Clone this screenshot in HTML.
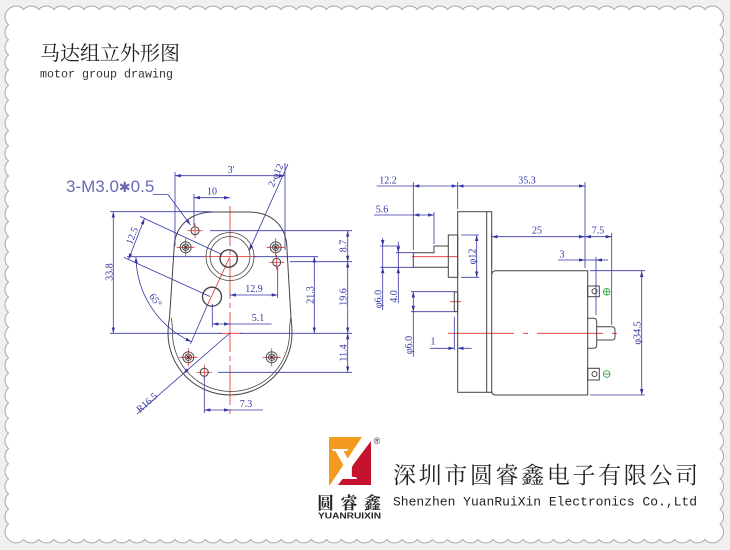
<!DOCTYPE html>
<html><head><meta charset="utf-8">
<style>
html,body{margin:0;padding:0;background:#f0f0f0;width:730px;height:550px;overflow:hidden;}
svg{display:block;}
.d{font-family:"Liberation Serif",serif;font-size:10px;fill:#3535a5;}
</style></head><body>
<svg width="730" height="550" viewBox="0 0 730 550" xmlns="http://www.w3.org/2000/svg" xmlns:xlink="http://www.w3.org/1999/xlink">
<defs>
<marker id="a" viewBox="0 0 10 10" refX="10" refY="5" markerWidth="6" markerHeight="3.4" markerUnits="userSpaceOnUse" preserveAspectRatio="none" orient="auto-start-reverse"><path d="M0,0 L10,5 L0,10 z" fill="#3535a5"/></marker>
<g id="scr">
<line x1="-9" y1="0" x2="9" y2="0" stroke="#e02a2a" stroke-width="0.8"/>
<line x1="0" y1="-9" x2="0" y2="9" stroke="#e02a2a" stroke-width="0.8"/>
<circle r="5.5" fill="none" stroke="#444" stroke-width="0.9"/>
<circle r="3.3" fill="none" stroke="#444" stroke-width="0.8"/>
<path d="M-2,-2 L2,2 M-2,2 L2,-2" stroke="#333" stroke-width="0.9"/>
</g>
<g id="hole">
<line x1="-7.5" y1="0" x2="7.5" y2="0" stroke="#e02a2a" stroke-width="0.8"/>
<line x1="0" y1="-7.5" x2="0" y2="7.5" stroke="#e02a2a" stroke-width="0.8"/>
<circle r="4" fill="none" stroke="#444" stroke-width="1"/>
</g>
</defs>
<rect width="730" height="550" fill="#f0f0f0"/>
<path fill="#fff" stroke="#a8a8a8" stroke-width="1" d="M8.5,9.5
a10 10 0 0 1 15.14 0 a10 10 0 0 1 15.14 0 a10 10 0 0 1 15.14 0 a10 10 0 0 1 15.14 0 a10 10 0 0 1 15.14 0
a10 10 0 0 1 15.14 0 a10 10 0 0 1 15.14 0 a10 10 0 0 1 15.14 0 a10 10 0 0 1 15.14 0 a10 10 0 0 1 15.14 0
a10 10 0 0 1 15.14 0 a10 10 0 0 1 15.14 0 a10 10 0 0 1 15.14 0 a10 10 0 0 1 15.14 0 a10 10 0 0 1 15.14 0
a10 10 0 0 1 15.14 0 a10 10 0 0 1 15.14 0 a10 10 0 0 1 15.14 0 a10 10 0 0 1 15.14 0 a10 10 0 0 1 15.14 0
a10 10 0 0 1 15.14 0 a10 10 0 0 1 15.14 0 a10 10 0 0 1 15.14 0 a10 10 0 0 1 15.14 0 a10 10 0 0 1 15.14 0
a10 10 0 0 1 15.14 0 a10 10 0 0 1 15.14 0 a10 10 0 0 1 15.14 0 a10 10 0 0 1 15.14 0 a10 10 0 0 1 15.14 0
a10 10 0 0 1 15.14 0 a10 10 0 0 1 15.14 0 a10 10 0 0 1 15.14 0 a10 10 0 0 1 15.14 0 a10 10 0 0 1 15.14 0
a10 10 0 0 1 15.14 0 a10 10 0 0 1 15.14 0 a10 10 0 0 1 15.14 0 a10 10 0 0 1 15.14 0 a10 10 0 0 1 15.14 0
a10 10 0 0 1 15.14 0 a10 10 0 0 1 15.14 0 a10 10 0 0 1 15.14 0 a10 10 0 0 1 15.14 0 a10 10 0 0 1 15.14 0
a10 10 0 0 1 15.14 0 a10 10 0 0 1 15.14 0
a10 10 0 0 1 0 15.14 a10 10 0 0 1 0 15.14 a10 10 0 0 1 0 15.14 a10 10 0 0 1 0 15.14 a10 10 0 0 1 0 15.14
a10 10 0 0 1 0 15.14 a10 10 0 0 1 0 15.14 a10 10 0 0 1 0 15.14 a10 10 0 0 1 0 15.14 a10 10 0 0 1 0 15.14
a10 10 0 0 1 0 15.14 a10 10 0 0 1 0 15.14 a10 10 0 0 1 0 15.14 a10 10 0 0 1 0 15.14 a10 10 0 0 1 0 15.14
a10 10 0 0 1 0 15.14 a10 10 0 0 1 0 15.14 a10 10 0 0 1 0 15.14 a10 10 0 0 1 0 15.14 a10 10 0 0 1 0 15.14
a10 10 0 0 1 0 15.14 a10 10 0 0 1 0 15.14 a10 10 0 0 1 0 15.14 a10 10 0 0 1 0 15.14 a10 10 0 0 1 0 15.14
a10 10 0 0 1 0 15.14 a10 10 0 0 1 0 15.14 a10 10 0 0 1 0 15.14 a10 10 0 0 1 0 15.14 a10 10 0 0 1 0 15.14
a10 10 0 0 1 0 15.14 a10 10 0 0 1 0 15.14 a10 10 0 0 1 0 15.14 a10 10 0 0 1 0 15.14 a10 10 0 0 1 0 15.14
a10 10 0 0 1 -15.14 0 a10 10 0 0 1 -15.14 0 a10 10 0 0 1 -15.14 0 a10 10 0 0 1 -15.14 0 a10 10 0 0 1 -15.14 0
a10 10 0 0 1 -15.14 0 a10 10 0 0 1 -15.14 0 a10 10 0 0 1 -15.14 0 a10 10 0 0 1 -15.14 0 a10 10 0 0 1 -15.14 0
a10 10 0 0 1 -15.14 0 a10 10 0 0 1 -15.14 0 a10 10 0 0 1 -15.14 0 a10 10 0 0 1 -15.14 0 a10 10 0 0 1 -15.14 0
a10 10 0 0 1 -15.14 0 a10 10 0 0 1 -15.14 0 a10 10 0 0 1 -15.14 0 a10 10 0 0 1 -15.14 0 a10 10 0 0 1 -15.14 0
a10 10 0 0 1 -15.14 0 a10 10 0 0 1 -15.14 0 a10 10 0 0 1 -15.14 0 a10 10 0 0 1 -15.14 0 a10 10 0 0 1 -15.14 0
a10 10 0 0 1 -15.14 0 a10 10 0 0 1 -15.14 0 a10 10 0 0 1 -15.14 0 a10 10 0 0 1 -15.14 0 a10 10 0 0 1 -15.14 0
a10 10 0 0 1 -15.14 0 a10 10 0 0 1 -15.14 0 a10 10 0 0 1 -15.14 0 a10 10 0 0 1 -15.14 0 a10 10 0 0 1 -15.14 0
a10 10 0 0 1 -15.14 0 a10 10 0 0 1 -15.14 0 a10 10 0 0 1 -15.14 0 a10 10 0 0 1 -15.14 0 a10 10 0 0 1 -15.14 0
a10 10 0 0 1 -15.14 0 a10 10 0 0 1 -15.14 0 a10 10 0 0 1 -15.14 0 a10 10 0 0 1 -15.14 0 a10 10 0 0 1 -15.14 0
a10 10 0 0 1 -15.14 0 a10 10 0 0 1 -15.14 0
a10 10 0 0 1 0 -15.14 a10 10 0 0 1 0 -15.14 a10 10 0 0 1 0 -15.14 a10 10 0 0 1 0 -15.14 a10 10 0 0 1 0 -15.14
a10 10 0 0 1 0 -15.14 a10 10 0 0 1 0 -15.14 a10 10 0 0 1 0 -15.14 a10 10 0 0 1 0 -15.14 a10 10 0 0 1 0 -15.14
a10 10 0 0 1 0 -15.14 a10 10 0 0 1 0 -15.14 a10 10 0 0 1 0 -15.14 a10 10 0 0 1 0 -15.14 a10 10 0 0 1 0 -15.14
a10 10 0 0 1 0 -15.14 a10 10 0 0 1 0 -15.14 a10 10 0 0 1 0 -15.14 a10 10 0 0 1 0 -15.14 a10 10 0 0 1 0 -15.14
a10 10 0 0 1 0 -15.14 a10 10 0 0 1 0 -15.14 a10 10 0 0 1 0 -15.14 a10 10 0 0 1 0 -15.14 a10 10 0 0 1 0 -15.14
a10 10 0 0 1 0 -15.14 a10 10 0 0 1 0 -15.14 a10 10 0 0 1 0 -15.14 a10 10 0 0 1 0 -15.14 a10 10 0 0 1 0 -15.14
a10 10 0 0 1 0 -15.14 a10 10 0 0 1 0 -15.14 a10 10 0 0 1 0 -15.14 a10 10 0 0 1 0 -15.14 a10 10 0 0 1 0 -15.14
Z"/>

<!-- Title -->
<text x="40" y="60" font-family="'Liberation Serif','Noto Serif CJK SC',serif" font-size="20" fill="#222" textLength="140" lengthAdjust="spacingAndGlyphs">马达组立外形图</text>
<text x="40" y="77.5" font-family="'Liberation Mono',monospace" font-size="11.7" fill="#333" textLength="133" lengthAdjust="spacingAndGlyphs">motor group drawing</text>

<!-- ========== LEFT DRAWING ========== -->
<g stroke="#e02a2a" stroke-width="0.8" fill="none">
<line x1="230" y1="206" x2="230" y2="414" stroke-dasharray="40 4 5 4"/>
<line x1="203" y1="256.5" x2="257" y2="256.5"/>
<line x1="230" y1="256.5" x2="207" y2="306"/>
<line x1="219" y1="333.3" x2="242" y2="333.3"/>
</g>
<g stroke="#444" stroke-width="1" fill="none">
<path d="M174,250 C174,226 190,212 214,212 L248,212 C272,212 287,226 287,250 L291,318 Q292,326 292,333 A62,62 0 0 1 168,333 Q168,326 169.5,318 Z"/>
<path d="M171.5,318 Q172.5,326 172.5,333 A58.5,58.5 0 0 0 289.5,333 Q289.5,326 290.5,318" stroke-width="0.8"/>
<circle cx="230" cy="256.5" r="24" stroke-width="0.8"/>
<circle cx="230" cy="256.5" r="20" stroke-width="0.8"/>
<circle cx="228.7" cy="258.5" r="8.7" stroke-width="1.4"/>
<circle cx="212" cy="296.7" r="9.5" stroke-width="1.3"/>
</g>
<use href="#hole" xlink:href="#hole" x="195" y="230.7"/>
<use href="#hole" xlink:href="#hole" x="276.7" y="262.3"/>
<use href="#hole" xlink:href="#hole" x="204.3" y="372.3"/>
<use href="#scr" xlink:href="#scr" x="185.7" y="247.3"/>
<use href="#scr" xlink:href="#scr" x="275.7" y="247.3"/>
<use href="#scr" xlink:href="#scr" x="188.3" y="357.3"/>
<use href="#scr" xlink:href="#scr" x="271.7" y="357.3"/>

<g stroke="#3535a5" stroke-width="0.8" fill="none">
<line x1="175" y1="175.7" x2="285" y2="175.7" marker-start="url(#a)" marker-end="url(#a)"/>
<line x1="175" y1="172" x2="175" y2="246"/>
<line x1="285" y1="163" x2="285" y2="250"/>
<line x1="288" y1="164" x2="249" y2="251" marker-end="url(#a)"/>
<line x1="194" y1="197.7" x2="230" y2="197.7" marker-start="url(#a)" marker-end="url(#a)"/>
<line x1="194" y1="194" x2="194" y2="226"/>
<polyline points="153,194.5 168,194.5 190.5,225" marker-end="url(#a)"/>
<line x1="113.3" y1="211.7" x2="113.3" y2="333.3" marker-start="url(#a)" marker-end="url(#a)"/>
<line x1="110" y1="211.7" x2="212" y2="211.7"/>
<line x1="110" y1="333.3" x2="221" y2="333.3"/>
<line x1="240" y1="333.3" x2="352" y2="333.3"/>
<line x1="144.5" y1="218.5" x2="128.5" y2="259.5" marker-start="url(#a)" marker-end="url(#a)"/>
<line x1="140" y1="216.4" x2="222" y2="254.5"/>
<line x1="124" y1="257.4" x2="210" y2="296.5"/>
<path d="M136,257 A94,94 0 0 0 191.5,341.7" marker-start="url(#a)" marker-end="url(#a)"/>
<line x1="127" y1="256.7" x2="204" y2="256.7"/>
<line x1="207" y1="306" x2="190.5" y2="344"/>
<line x1="230" y1="295" x2="277.7" y2="295" marker-start="url(#a)" marker-end="url(#a)"/>
<line x1="277.7" y1="267" x2="277.7" y2="298"/>
<line x1="314.3" y1="256.7" x2="314.3" y2="333.3" marker-start="url(#a)" marker-end="url(#a)"/>
<line x1="253" y1="256.7" x2="318" y2="256.7"/>
<line x1="347.7" y1="230.7" x2="347.7" y2="261.7" marker-start="url(#a)" marker-end="url(#a)"/>
<line x1="347.7" y1="261.7" x2="347.7" y2="333.3" marker-start="url(#a)" marker-end="url(#a)"/>
<line x1="347.7" y1="333.3" x2="347.7" y2="372.3" marker-start="url(#a)" marker-end="url(#a)"/>
<line x1="210" y1="230.7" x2="352" y2="230.7"/>
<line x1="290" y1="261.7" x2="352" y2="261.7"/>
<line x1="218" y1="372.3" x2="352" y2="372.3"/>
<line x1="212.3" y1="324" x2="230" y2="324" marker-start="url(#a)" marker-end="url(#a)"/>
<line x1="230" y1="324" x2="271.7" y2="324"/>
<line x1="212.3" y1="304" x2="212.3" y2="327"/>
<line x1="204.3" y1="410" x2="230" y2="410" marker-start="url(#a)" marker-end="url(#a)"/>
<line x1="230" y1="410" x2="263" y2="410"/>
<line x1="204.3" y1="377" x2="204.3" y2="413"/>
<line x1="230" y1="333" x2="183.2" y2="373.7" marker-end="url(#a)"/>
<line x1="183.2" y1="373.7" x2="137" y2="414"/>
</g>
<text x="66" y="192" font-family="'Liberation Sans','DejaVu Sans',sans-serif" font-size="17" fill="#6a6ab5">3-M3.0<tspan font-size="14" font-family="'DejaVu Sans',sans-serif">✱</tspan>0.5</text>
<g class="d">
<text x="231" y="173" text-anchor="middle">3'</text>
<text transform="translate(279.5,177) rotate(-66)" text-anchor="middle" y="-1">2-φ12</text>
<text x="212" y="194.5" text-anchor="middle">10</text>
<text transform="translate(112.5,272) rotate(-90)" text-anchor="middle">33.8</text>
<text transform="translate(135,237) rotate(-68)" text-anchor="middle">12.5</text>
<text transform="translate(153,302) rotate(52)" text-anchor="middle">65°</text>
<text x="254" y="292" text-anchor="middle">12.9</text>
<text transform="translate(313.3,295) rotate(-90)" text-anchor="middle">21.3</text>
<text transform="translate(346.7,246) rotate(-90)" text-anchor="middle">8.7</text>
<text transform="translate(346.7,297) rotate(-90)" text-anchor="middle">19.6</text>
<text transform="translate(346.7,353) rotate(-90)" text-anchor="middle">11.4</text>
<text x="258" y="321" text-anchor="middle">5.1</text>
<text x="246" y="407" text-anchor="middle">7.3</text>
<text transform="translate(149,405) rotate(-42)" text-anchor="middle">R16.5</text>
</g>

<!-- ========== RIGHT DRAWING ========== -->
<g stroke="#e02a2a" stroke-width="0.8" fill="none">
<line x1="412" y1="256.7" x2="458" y2="256.7"/>
<line x1="448" y1="333.3" x2="617" y2="333.3" stroke-dasharray="66 9 5 9"/>
<line x1="450" y1="301.7" x2="461" y2="301.7"/>
</g>
<g stroke="#444" stroke-width="1" fill="none">
<rect x="457.7" y="211.7" width="34" height="180.6"/>
<line x1="486.7" y1="211.7" x2="486.7" y2="392.3"/>
<path d="M491.7,275 Q491.7,270.7 496,270.7 L587.7,270.7 L587.7,395 L496,395 Q491.7,395 491.7,391"/>
<rect x="448.3" y="235" width="9.4" height="42.3"/>
<path d="M448.3,246 L434,246 L434,252.7 L413.3,252.7 L413.3,267.3 L448.3,267.3"/>
<rect x="454.3" y="291.7" width="3.4" height="20" rx="1.5"/>
<rect x="587.7" y="286" width="11.6" height="10.7"/>
<circle cx="594.5" cy="291.3" r="2.5"/>
<rect x="587.7" y="368.3" width="11.6" height="11.7"/>
<circle cx="594.5" cy="374" r="2.5"/>
<path d="M587.7,318.3 L593.5,318.3 Q596.7,318.3 596.7,322 L596.7,345 Q596.7,348.3 593.5,348.3 L587.7,348.3"/>
<path d="M596.7,326.7 L612,326.7 Q615,326.7 615,330 L615,337 Q615,340 612,340 L596.7,340"/>
</g>
<g stroke="#33aa44" stroke-width="0.9" fill="none">
<circle cx="606.7" cy="291.7" r="3.3"/>
<path d="M603.4,291.7 H610 M606.7,288.4 V295"/>
<circle cx="606.7" cy="374" r="3.3"/>
<path d="M603.4,374 H610"/>
</g>
<g stroke="#3535a5" stroke-width="0.8" fill="none">
<line x1="376.7" y1="186" x2="413.3" y2="186"/>
<line x1="413.3" y1="186" x2="457.7" y2="186" marker-start="url(#a)" marker-end="url(#a)"/>
<line x1="457.7" y1="186" x2="585" y2="186" marker-start="url(#a)" marker-end="url(#a)"/>
<line x1="413.3" y1="182" x2="413.3" y2="250"/>
<line x1="457.7" y1="182" x2="457.7" y2="209"/>
<line x1="585" y1="182" x2="585" y2="268"/>
<line x1="374" y1="215" x2="413.3" y2="215"/>
<line x1="413.3" y1="215" x2="434" y2="215" marker-start="url(#a)" marker-end="url(#a)"/>
<line x1="434" y1="212" x2="434" y2="244"/>
<line x1="491.7" y1="236.7" x2="585" y2="236.7" marker-start="url(#a)" marker-end="url(#a)"/>
<line x1="585" y1="236.7" x2="611.7" y2="236.7" marker-start="url(#a)" marker-end="url(#a)"/>
<line x1="491.7" y1="233" x2="491.7" y2="268"/>
<line x1="611.7" y1="233" x2="611.7" y2="325"/>
<line x1="558" y1="260" x2="585" y2="260" marker-end="url(#a)"/>
<line x1="585" y1="260" x2="596" y2="260"/>
<line x1="608" y1="260" x2="596" y2="260" marker-end="url(#a)"/>
<line x1="596" y1="257" x2="596" y2="315"/>
<line x1="641.7" y1="271" x2="641.7" y2="395" marker-start="url(#a)" marker-end="url(#a)"/>
<line x1="590" y1="270.7" x2="645" y2="270.7"/>
<line x1="590" y1="395" x2="645" y2="395"/>
<line x1="476.7" y1="235" x2="476.7" y2="277.3" marker-start="url(#a)" marker-end="url(#a)"/>
<line x1="461" y1="235" x2="479" y2="235"/>
<line x1="461" y1="277.3" x2="479" y2="277.3"/>
<line x1="382.7" y1="238" x2="382.7" y2="246" marker-end="url(#a)"/>
<line x1="382.7" y1="310" x2="382.7" y2="267.3" marker-end="url(#a)"/>
<line x1="382.7" y1="246" x2="382.7" y2="267.3"/>
<line x1="380" y1="246" x2="400" y2="246"/>
<line x1="380" y1="267.3" x2="413" y2="267.3"/>
<line x1="398.3" y1="241.7" x2="398.3" y2="252.7" marker-end="url(#a)"/>
<line x1="398.3" y1="303.3" x2="398.3" y2="267.3" marker-end="url(#a)"/>
<line x1="398.3" y1="252.7" x2="398.3" y2="267.3"/>
<line x1="396" y1="252.7" x2="413" y2="252.7"/>
<line x1="413.3" y1="291.7" x2="413.3" y2="311.7" marker-start="url(#a)" marker-end="url(#a)"/>
<line x1="413.3" y1="311.7" x2="413.3" y2="356.7"/>
<line x1="411" y1="291.7" x2="455" y2="291.7"/>
<line x1="411" y1="311.7" x2="455" y2="311.7"/>
<line x1="430" y1="348.3" x2="454.3" y2="348.3" marker-end="url(#a)"/>
<line x1="471.7" y1="348.3" x2="457.7" y2="348.3" marker-end="url(#a)"/>
<line x1="454.3" y1="316.7" x2="454.3" y2="350"/>
</g>
<g class="d">
<text x="388" y="183.5" text-anchor="middle">12.2</text>
<text x="527" y="183.5" text-anchor="middle">35.3</text>
<text x="382" y="212.5" text-anchor="middle">5.6</text>
<text x="537" y="233.5" text-anchor="middle">25</text>
<text x="598" y="233.5" text-anchor="middle">7.5</text>
<text x="562" y="257.5" text-anchor="middle">3</text>
<text transform="translate(640.5,333) rotate(-90)" text-anchor="middle">φ34.5</text>
<text transform="translate(475.5,256.5) rotate(-90)" text-anchor="middle">φ12</text>
<text transform="translate(381.5,299) rotate(-90)" text-anchor="middle">φ6.0</text>
<text transform="translate(397,296.5) rotate(-90)" text-anchor="middle">4.0</text>
<text transform="translate(412,345) rotate(-90)" text-anchor="middle">φ6.0</text>
<text x="433" y="344.5" text-anchor="middle">1</text>
</g>

<!-- ========== LOGO & COMPANY ========== -->
<rect x="329" y="437" width="42" height="48" fill="#f29b1f"/>
<polygon points="371,441 371,485 335,485" fill="#c4122f"/>
<polygon points="362,437 371,437 371,441 338,485 330,485" fill="#fff"/>
<text x="348" y="479" text-anchor="middle" font-family="'Liberation Serif',serif" font-weight="bold" font-size="46" fill="#fff">Y</text>
<text x="377" y="444" text-anchor="middle" font-family="'Liberation Sans',sans-serif" font-size="9" fill="#333">®</text>
<text x="317" y="509" font-family="'Liberation Serif','Noto Serif CJK SC',serif" font-weight="bold" font-size="17" fill="#222" textLength="64" lengthAdjust="spacing">圆睿鑫</text>
<text x="318" y="518.5" font-family="'Liberation Sans',sans-serif" font-weight="bold" font-size="8" fill="#222" textLength="63" lengthAdjust="spacingAndGlyphs">YUANRUIXIN</text>
<text x="393" y="483" font-family="'Liberation Serif','Noto Serif CJK SC',serif" font-size="23" fill="#222" textLength="305" lengthAdjust="spacing">深圳市圆睿鑫电子有限公司</text>
<text x="393" y="505.5" font-family="'Liberation Mono',monospace" font-size="13" fill="#222" textLength="304" lengthAdjust="spacingAndGlyphs">Shenzhen YuanRuiXin Electronics Co.,Ltd</text>
</svg>
</body></html>
